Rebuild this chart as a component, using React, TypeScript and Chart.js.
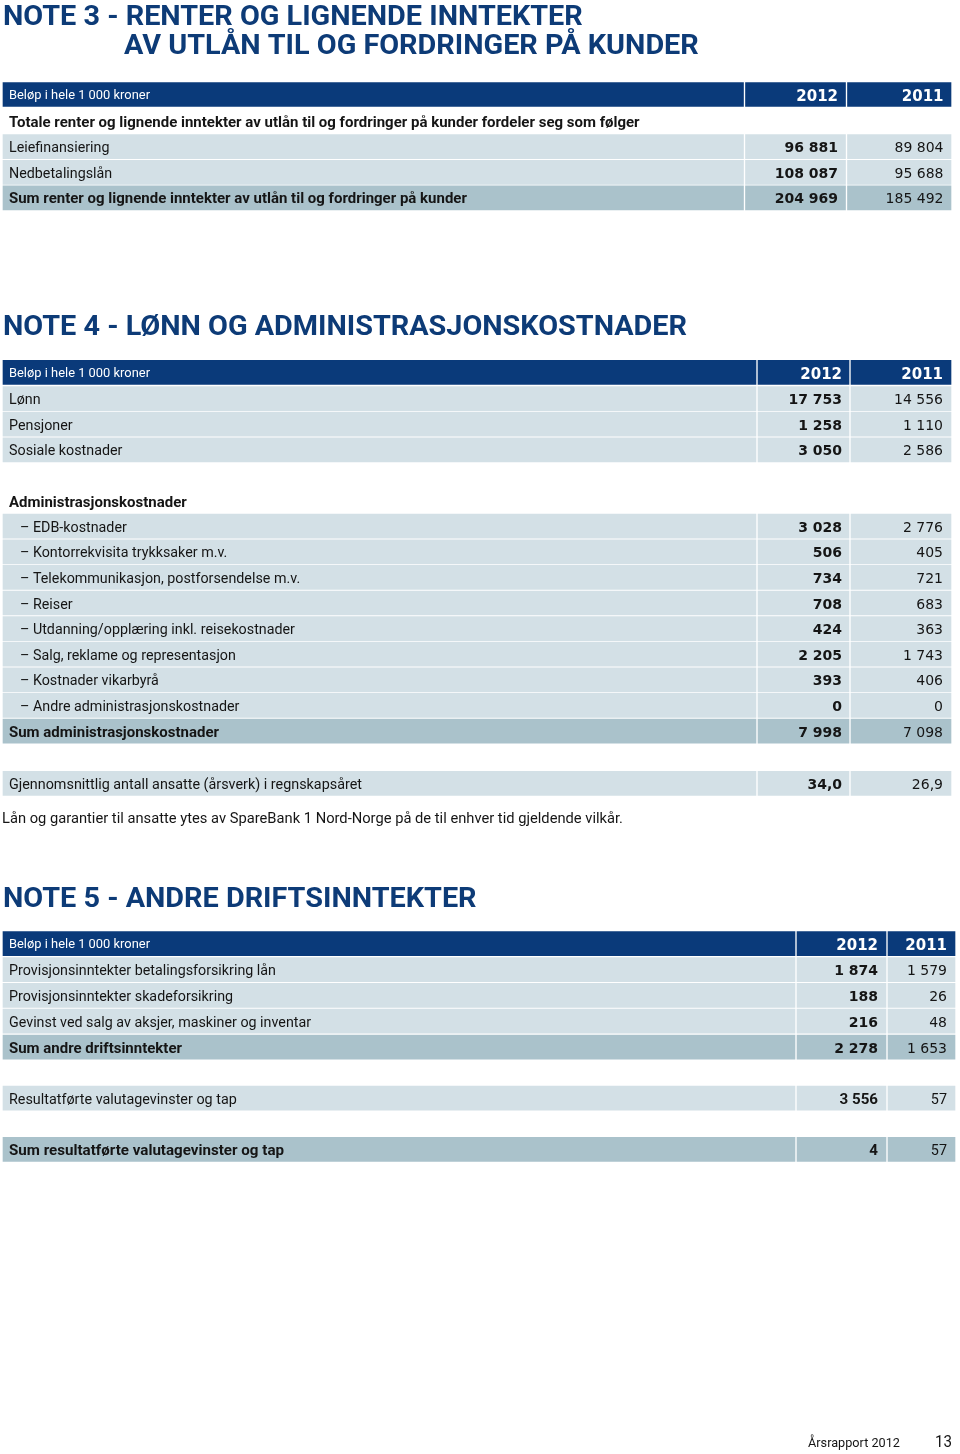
import React, { useEffect, useRef } from 'react';
import { Chart, registerables } from 'chart.js';

Chart.register(...registerables);

const PAGE_W = 960;
const PAGE_H = 1454;

// ---------- data ----------
const years = ['2012', '2011'];
const unitLabel = 'Beløp i hele 1 000 kroner';

const note3Title = ['NOTE 3 - RENTER OG LIGNENDE INNTEKTER', 'AV UTLÅN TIL OG FORDRINGER PÅ KUNDER'];
const note3Intro = 'Totale renter og lignende inntekter av utlån til og fordringer på kunder fordeler seg som følger';
const note3Categories = ['Leiefinansiering', 'Nedbetalingslån'];
const note3Values2012 = [96881, 108087];
const note3Values2011 = [89804, 95688];
const note3SumLabel = 'Sum renter og lignende inntekter av utlån til og fordringer på kunder';
const note3Sum = [204969, 185492];

const note4Title = 'NOTE 4 - LØNN OG ADMINISTRASJONSKOSTNADER';
const note4Categories = ['Lønn', 'Pensjoner', 'Sosiale kostnader'];
const note4Values2012 = [17753, 1258, 3050];
const note4Values2011 = [14556, 1110, 2586];

const adminHeading = 'Administrasjonskostnader';
const adminCategories = [
  'EDB-kostnader',
  'Kontorrekvisita trykksaker m.v.',
  'Telekommunikasjon, postforsendelse m.v.',
  'Reiser',
  'Utdanning/opplæring inkl. reisekostnader',
  'Salg, reklame og representasjon',
  'Kostnader vikarbyrå',
  'Andre administrasjonskostnader',
];
const adminValues2012 = [3028, 506, 734, 708, 424, 2205, 393, 0];
const adminValues2011 = [2776, 405, 721, 683, 363, 1743, 406, 0];
const adminSumLabel = 'Sum administrasjonskostnader';
const adminSum = [7998, 7098];

const employeesLabel = 'Gjennomsnittlig antall ansatte (årsverk) i regnskapsåret';
const employeesValues = [34.0, 26.9];
const note4Footnote = 'Lån og garantier til ansatte ytes av SpareBank 1 Nord-Norge på de til enhver tid gjeldende vilkår.';

const note5Title = 'NOTE 5 - ANDRE DRIFTSINNTEKTER';
const note5Categories = [
  'Provisjonsinntekter betalingsforsikring lån',
  'Provisjonsinntekter skadeforsikring',
  'Gevinst ved salg av aksjer, maskiner og inventar',
];
const note5Values2012 = [1874, 188, 216];
const note5Values2011 = [1579, 26, 48];
const note5SumLabel = 'Sum andre driftsinntekter';
const note5Sum = [2278, 1653];

const currencyLabel = 'Resultatførte valutagevinster og tap';
const currencyValues = [3556, 57];
const currencySumLabel = 'Sum resultatførte valutagevinster og tap';
const currencySum = [4, 57];

const footerText = 'Årsrapport 2012';
const pageNumber = '13';

// ---------- styles ----------
const C_NAVY = '#0a3a7a';
const C_TITLE = '#0d3b77';
const C_LIGHT = '#d3e0e6';
const C_SUM = '#aac2cb';
const C_TEXT = '#151515';

type TextClass = { font: string; color: string; dy: number; ref?: [string, number] };
const TEXT_CLASSES: Record<string, TextClass> = {
  title: { font: 'bold 28px Roboto', color: C_TITLE, dy: 2.5, ref: ['NOTE 4 - LØNN OG ADMINISTRASJONSKOSTNADER', 684] },
  unit: { font: '12px Roboto', color: '#ffffff', dy: 1.5, ref: ['Beløp i hele 1 000 kroner', 141] },
  year: { font: 'bold 15px "DejaVu Sans"', color: '#ffffff', dy: 2.5 },
  label: { font: '15px Roboto', color: C_TEXT, dy: 1.8, ref: ['Provisjonsinntekter betalingsforsikring lån', 267] },
  labelBold: { font: 'bold 15px Roboto', color: C_TEXT, dy: 1.8, ref: ['Sum andre driftsinntekter', 173] },
  cond: { font: '15px Roboto', color: C_TEXT, dy: 1.8, ref: ['Gjennomsnittlig antall ansatte (årsverk) i regnskapsåret', 353] },
  note: { font: '15px Roboto', color: C_TEXT, dy: 1.8, ref: [note4Footnote, 621] },
  condBold: { font: 'bold 15px Roboto', color: C_TEXT, dy: 1.8, ref: ['Sum resultatførte valutagevinster og tap', 275] },
  valBold: { font: 'bold 14px "DejaVu Sans"', color: C_TEXT, dy: 2 },
  val: { font: '14px "DejaVu Sans"', color: C_TEXT, dy: 2 },
  footer: { font: '13px Roboto', color: C_TEXT, dy: 2, ref: ['Årsrapport 2012', 92] },
  page: { font: '17px Roboto', color: C_TEXT, dy: 2, ref: ['13', 17] },
};

type Cols = { cells: [number, number][]; right: [number, number] };
const COLS3: Cols = { cells: [[3, 743.5], [745.5, 845.5], [847.5, 951]], right: [838, 943.5] };
const COLS4: Cols = { cells: [[3, 756], [758, 849], [851, 951]], right: [842, 943] };
const COLS5: Cols = { cells: [[3, 795], [797, 886], [888, 955]], right: [878, 947] };

const ROW_H = 24;
const LABEL_X = 9;

const fmtInt = (v: number) => {
  const s = String(Math.abs(Math.round(v)));
  return s.replace(/\B(?=(\d{3})+(?!\d))/g, ' ');
};
const fmtDec = (v: number) => v.toFixed(1).replace('.', ',');

type Cell = { x0: number; x1: number; cy: number; color: string };
type Txt = { x: number; y: number; text: string; cls: string; align: 'left' | 'right' };

function buildLayout() {
  const cells: Cell[] = [];
  const texts: Txt[] = [];

  const row = (
    top: number,
    kind: 'header' | 'light' | 'sum',
    cols: Cols,
    label: string,
    labelCls: string,
    vals: [string, string],
    valCls: [string, string],
    labelX = LABEL_X,
  ) => {
    const cy = top + ROW_H / 2;
    const color = kind === 'header' ? C_NAVY : kind === 'sum' ? C_SUM : C_LIGHT;
    cols.cells.forEach(([a, b]) => cells.push({ x0: a, x1: b, cy, color }));
    texts.push({ x: labelX, y: cy, text: label, cls: labelCls, align: 'left' });
    texts.push({ x: cols.right[0], y: cy, text: vals[0], cls: valCls[0], align: 'right' });
    texts.push({ x: cols.right[1], y: cy, text: vals[1], cls: valCls[1], align: 'right' });
  };
  const text = (x: number, y: number, t: string, cls: string, align: 'left' | 'right' = 'left') =>
    texts.push({ x, y, text: t, cls, align });

  // Note 3
  text(3, 15, note3Title[0], 'title');
  text(124, 44, note3Title[1], 'title');
  row(82.5, 'header', COLS3, unitLabel, 'unit', [years[0], years[1]], ['year', 'year']);
  text(LABEL_X, 121, note3Intro, 'labelBold');
  note3Categories.forEach((c, i) =>
    row(134.7 + i * 25.6, 'light', COLS3, c, 'label', [fmtInt(note3Values2012[i]), fmtInt(note3Values2011[i])], ['valBold', 'val']),
  );
  row(185.8, 'sum', COLS3, note3SumLabel, 'labelBold', [fmtInt(note3Sum[0]), fmtInt(note3Sum[1])], ['valBold', 'val']);

  // Note 4
  text(3, 325.5, note4Title, 'title');
  row(360.3, 'header', COLS4, unitLabel, 'unit', [years[0], years[1]], ['year', 'year']);
  note4Categories.forEach((c, i) =>
    row(386.6 + i * 25.6, 'light', COLS4, c, 'label', [fmtInt(note4Values2012[i]), fmtInt(note4Values2011[i])], ['valBold', 'val']),
  );
  text(LABEL_X, 501, adminHeading, 'labelBold');
  adminCategories.forEach((c, i) =>
    row(514.2 + i * 25.6, 'light', COLS4, '– ' + c, 'label', [fmtInt(adminValues2012[i]), fmtInt(adminValues2011[i])], ['valBold', 'val'], 20),
  );
  row(719.2, 'sum', COLS4, adminSumLabel, 'labelBold', [fmtInt(adminSum[0]), fmtInt(adminSum[1])], ['valBold', 'val']);
  row(771.3, 'light', COLS4, employeesLabel, 'cond', [fmtDec(employeesValues[0]), fmtDec(employeesValues[1])], ['valBold', 'val']);
  text(2, 817, note4Footnote, 'note');

  // Note 5
  text(3, 897, note5Title, 'title');
  row(931.7, 'header', COLS5, unitLabel, 'unit', [years[0], years[1]], ['year', 'year']);
  note5Categories.forEach((c, i) =>
    row(957.7 + i * 25.7, 'light', COLS5, c, 'label', [fmtInt(note5Values2012[i]), fmtInt(note5Values2011[i])], ['valBold', 'val']),
  );
  row(1035.2, 'sum', COLS5, note5SumLabel, 'labelBold', [fmtInt(note5Sum[0]), fmtInt(note5Sum[1])], ['valBold', 'val']);
  row(1086.2, 'light', COLS5, currencyLabel, 'cond', [fmtInt(currencyValues[0]), fmtInt(currencyValues[1])], ['condBold', 'cond']);
  row(1137.4, 'sum', COLS5, currencySumLabel, 'condBold', [fmtInt(currencySum[0]), fmtInt(currencySum[1])], ['condBold', 'cond']);

  // footer
  text(808, 1442, footerText, 'footer');
  text(935, 1441, pageNumber, 'page');

  return { cells, texts };
}

export default function App() {
  const ref = useRef<HTMLCanvasElement | null>(null);

  useEffect(() => {
    document.body.style.margin = '0';
    const canvas = ref.current;
    if (!canvas) return;
    const { cells, texts } = buildLayout();

    const scaleCache: Record<string, number> = {};
    const textPlugin = {
      id: 'tableText',
      afterDatasetsDraw(chart: any) {
        const ctx: CanvasRenderingContext2D = chart.ctx;
        const sx = chart.scales.x;
        const sy = chart.scales.y;
        texts.forEach((t) => {
          const cls = TEXT_CLASSES[t.cls];
          ctx.save();
          ctx.font = cls.font;
          let k = 1;
          if (cls.ref) {
            if (scaleCache[t.cls] === undefined) {
              const w = ctx.measureText(cls.ref[0]).width;
              scaleCache[t.cls] = w > 0 ? cls.ref[1] / w : 1;
            }
            k = scaleCache[t.cls];
          }
          ctx.fillStyle = cls.color;
          ctx.textAlign = t.align;
          ctx.textBaseline = 'middle';
          ctx.translate(sx.getPixelForValue(t.x), sy.getPixelForValue(t.y + cls.dy));
          ctx.scale(k, 1);
          ctx.fillText(t.text, 0, 0);
          ctx.restore();
        });
      },
    };

    const chart = new Chart(canvas, {
      type: 'bar',
      data: {
        datasets: [
          {
            data: cells.map((c) => ({ x: [c.x0, c.x1], y: c.cy })) as any,
            backgroundColor: cells.map((c) => c.color),
            barThickness: ROW_H,
            borderWidth: 0,
          },
        ],
      },
      options: {
        indexAxis: 'y',
        responsive: false,
        maintainAspectRatio: false,
        animation: false,
        events: [],
        layout: { padding: 0 },
        scales: {
          x: { type: 'linear', min: 0, max: PAGE_W, display: false },
          y: { type: 'linear', min: 0, max: PAGE_H, reverse: true, display: false, offset: false },
        },
        plugins: { legend: { display: false }, tooltip: { enabled: false } },
      },
      plugins: [textPlugin],
    });

    return () => chart.destroy();
  }, []);

  return <canvas ref={ref} width={PAGE_W} height={PAGE_H} style={{ display: 'block' }} />;
}
